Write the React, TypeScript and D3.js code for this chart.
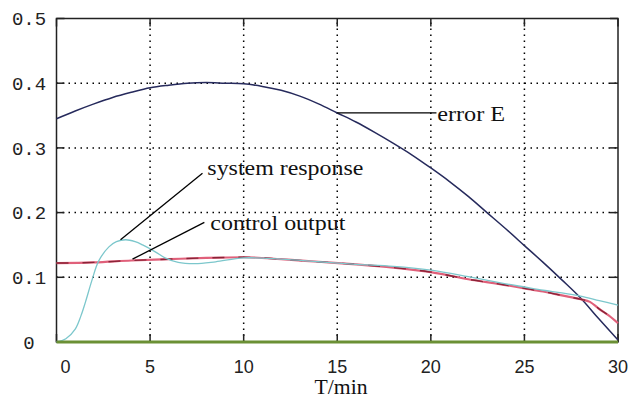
import React from "react";
import * as d3 from "d3";

const xTicks = [0, 5, 10, 15, 20, 25, 30];
const yTicks = [0, 0.1, 0.2, 0.3, 0.4, 0.5];
const yTickLabels = ["0", "0.1", "0.2", "0.3", "0.4", "0.5"];
const xLabel = "T/min";

const errorE: [number, number][] = [
  [0, 0.345], [1, 0.357], [2, 0.368], [3, 0.378], [4, 0.386], [5, 0.393],
  [6, 0.397], [7, 0.4], [8, 0.401], [9, 0.4], [10, 0.399], [11, 0.395],
  [12, 0.389], [13, 0.38], [14, 0.368], [15, 0.354], [16, 0.34], [17, 0.324],
  [18, 0.307], [19, 0.289], [20, 0.269], [21, 0.248], [22, 0.225], [23, 0.2],
  [24, 0.175], [25, 0.149], [26, 0.123], [27, 0.096], [28, 0.068], [29, 0.035], [30, 0.003],
];

const systemResponse: [number, number][] = [
  [0, 0], [0.5, 0.005], [1, 0.02], [1.3, 0.04], [1.55, 0.062], [1.9, 0.096],
  [2.25, 0.125], [2.8, 0.147], [3.2, 0.155], [3.7, 0.158], [4.2, 0.155],
  [4.6, 0.15], [5.3, 0.139], [5.8, 0.13], [6.5, 0.123], [7.4, 0.121],
  [8.5, 0.124], [10, 0.13], [12, 0.128], [14, 0.124], [16, 0.12], [18, 0.117],
  [20, 0.111], [22, 0.101], [24, 0.09], [25, 0.085], [26, 0.08], [27, 0.076],
  [28, 0.071], [29, 0.064], [30, 0.057],
];

const controlOutput: [number, number][] = [
  [0, 0.122], [2, 0.123], [4, 0.126], [6, 0.128], [8, 0.13], [10, 0.131],
  [12, 0.128], [14, 0.124], [16, 0.12], [18, 0.115], [20, 0.108], [22, 0.097],
  [24, 0.088], [25, 0.083], [26, 0.078], [27, 0.072], [28, 0.066], [28.5, 0.062],
  [29, 0.051], [29.5, 0.041], [30, 0.029],
];

const baseline: [number, number][] = [[0, 0], [30, 0]];

const annotationTexts = ["system response", "control output", "error E"];
// [from t, from v, to t, to v, text t, text v, text width px]
const annotationGeo = [
  [3.42, 0.158, 7.8, 0.261, 8.06, 0.258, 156],
  [4.06, 0.128, 7.9, 0.185, 8.22, 0.173, 135],
  [15, 0.354, 20.3, 0.354, 20.34, 0.341, 68],
];

export default function App() {
  const W = 630, H = 400;
  const x = d3.scaleLinear().domain([0, 30]).range([56.5, 618]);
  const y = d3.scaleLinear().domain([0, 0.5]).range([342, 18.5]);
  const line = d3
    .line<[number, number]>()
    .x((d) => x(d[0]))
    .y((d) => y(d[1]))
    .curve(d3.curveMonotoneX);
  const smooth = d3
    .line<[number, number]>()
    .x((d) => x(d[0]))
    .y((d) => y(d[1]))
    .curve(d3.curveCatmullRom.alpha(0.5));
  const x0 = x(0), x1 = x(30), y0 = y(0), y1 = y(0.5);
  const tick = 8;
  return (
    <svg width={W} height={H} style={{ position: "absolute", left: 0, top: 0, background: "#fff" }}>
      <rect x={0} y={0} width={W} height={H} fill="#fff" />
      {/* grid */}
      {xTicks.slice(1, -1).map((t) => (
        <line key={"gx" + t} x1={x(t)} x2={x(t)} y1={y0} y2={y1} stroke="#000" strokeWidth={1.5} strokeDasharray="1.5,4.5" />
      ))}
      {yTicks.slice(1, -1).map((t) => (
        <line key={"gy" + t} x1={x0} x2={x1} y1={y(t)} y2={y(t)} stroke="#000" strokeWidth={1.5} strokeDasharray="1.5,4.5" />
      ))}
      {/* frame */}
      <rect x={x0} y={y1} width={x1 - x0} height={y0 - y1} fill="none" stroke="#222" strokeWidth={1.5} />
      {xTicks.map((t) => (
        <g key={"tx" + t}>
          <line x1={x(t)} x2={x(t)} y1={y0} y2={y0 - tick} stroke="#222" strokeWidth={1.5} />
          <line x1={x(t)} x2={x(t)} y1={y1} y2={y1 + tick} stroke="#222" strokeWidth={1.5} />
        </g>
      ))}
      {yTicks.map((t) => (
        <g key={"ty" + t}>
          <line x1={x0} x2={x0 + tick} y1={y(t)} y2={y(t)} stroke="#222" strokeWidth={1.5} />
          <line x1={x1} x2={x1 - tick} y1={y(t)} y2={y(t)} stroke="#222" strokeWidth={1.5} />
        </g>
      ))}
      {/* series */}
      <path d={line(errorE) || ""} fill="none" stroke="#262a5c" strokeWidth={1.5} />
      <path d={line(controlOutput) || ""} fill="none" stroke="#e0607a" strokeWidth={2.2} />
      <path d={line(controlOutput) || ""} fill="none" stroke="#8a2438" strokeWidth={1.4} strokeDasharray="12,14" />
      <path d={smooth(systemResponse) || ""} fill="none" stroke="#7cc7cc" strokeWidth={1.3} />
      <path d={line(baseline) || ""} fill="none" stroke="#6b9035" strokeWidth={3} />
      {/* annotations */}
      {annotationGeo.map((a, i) => (
        <g key={"an" + i}>
          <line x1={x(a[0])} y1={y(a[1])} x2={x(a[2])} y2={y(a[3])} stroke="#000" strokeWidth={1.3} />
          <text x={x(a[4])} y={y(a[5])} fontFamily="Liberation Serif, Times New Roman, serif" fontSize={20}
            textLength={a[6]} lengthAdjust="spacingAndGlyphs" fill="#111">
            {annotationTexts[i]}
          </text>
        </g>
      ))}
      {/* y tick labels */}
      {yTicks.map((t, i) => (
        <text key={"ly" + t} x={29} y={y(t)} dy="0.35em" textAnchor="middle" fontFamily="Liberation Mono, Courier New, monospace" fontSize={19} fill="#222">
          {yTickLabels[i]}
        </text>
      ))}
      {/* x tick labels */}
      {xTicks.map((t, i) => (
        <text key={"lx" + t} x={x(t) + (i === 0 ? 9 : 0)} y={373} textAnchor="middle" fontFamily="Liberation Sans, Arial, sans-serif" fontSize={18} fill="#222">
          {String(t)}
        </text>
      ))}
      <text x={341} y={394} textAnchor="middle" fontFamily="Liberation Serif, Times New Roman, serif" fontSize={20} fill="#111" textLength={53} lengthAdjust="spacingAndGlyphs">
        {xLabel}
      </text>
    </svg>
  );
}
